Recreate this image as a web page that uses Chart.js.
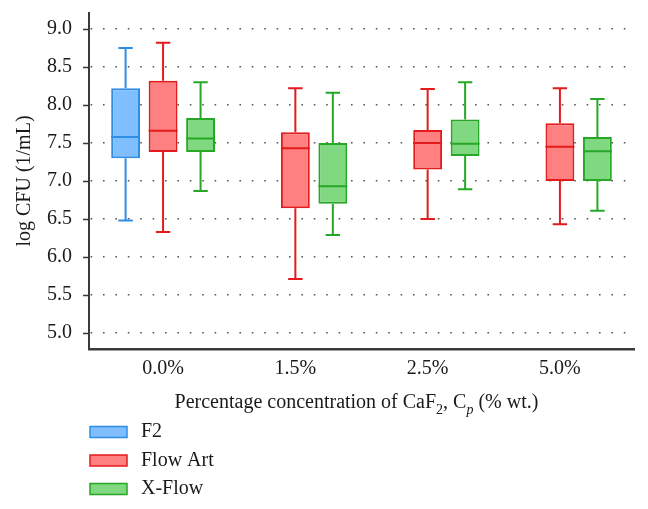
<!DOCTYPE html>
<html>
<head>
<meta charset="utf-8">
<script src="https://cdn.jsdelivr.net/npm/chart.js@4.4.1/dist/chart.umd.min.js"></script>
<style>
  html, body { margin: 0; padding: 0; background: #fff; }
  #wrap { width: 648px; height: 509px; }
</style>
</head>
<body>
<div id="wrap"><canvas id="boxChart" width="648" height="509"></canvas></div>
<script>
// values (log CFU per mL)
const categories = ["0.0%", "1.5%", "2.5%", "5.0%"];
const yTicks = [5.0, 5.5, 6.0, 6.5, 7.0, 7.5, 8.0, 8.5, 9.0];

const f2Min = [6.48, null, null, null];
const f2Q1 = [7.30, null, null, null];
const f2Median = [7.58, null, null, null];
const f2Q3 = [8.22, null, null, null];
const f2Max = [8.75, null, null, null];

const flowArtMin = [6.33, 5.71, 6.50, 6.43];
const flowArtQ1 = [7.38, 6.64, 7.15, 7.00];
const flowArtMedian = [7.66, 7.43, 7.50, 7.45];
const flowArtQ3 = [8.32, 7.64, 7.67, 7.76];
const flowArtMax = [8.82, 8.22, 8.21, 8.22];

const xFlowMin = [6.87, 6.29, 6.89, 6.61];
const xFlowQ1 = [7.38, 6.70, 7.33, 7.00];
const xFlowMedian = [7.56, 6.93, 7.49, 7.39];
const xFlowQ3 = [7.83, 7.50, 7.81, 7.58];
const xFlowMax = [8.30, 8.16, 8.30, 8.08];

const FONT = "'Liberation Serif', 'DejaVu Serif', serif";
const TEXT = "#1a1a1a";
const AXIS = "#3a3a3a";

function boxData(q1, q3) {
  return q1.map((v, i) => ({ x: i, y: v === null ? null : [v, q3[i]] }));
}

function makeSet(label, fill, line, min, q1, med, q3, max) {
  return {
    label: label,
    data: boxData(q1, q3),
    lo: min,
    mid: med,
    hi: max,
    backgroundColor: fill,
    borderColor: line,
    borderWidth: 2,
    borderSkipped: false,
  };
}

// whiskers, caps and median lines drawn on top of the floating bars
const boxPlot = {
  id: "boxPlot",
  afterDatasetsDraw(chart) {
    const ctx = chart.ctx;
    const y = chart.scales.y;
    chart.data.datasets.forEach((ds, di) => {
      const meta = chart.getDatasetMeta(di);
      meta.data.forEach((bar, i) => {
        if (ds.mid[i] === null) return;
        const x = bar.x;
        const w = bar.width;
        const q1 = y.getPixelForValue(ds.data[i].y[0]);
        const q3 = y.getPixelForValue(ds.data[i].y[1]);
        const lo = y.getPixelForValue(ds.lo[i]);
        const hi = y.getPixelForValue(ds.hi[i]);
        const md = y.getPixelForValue(ds.mid[i]);
        const cap = w / 4;
        ctx.save();
        ctx.strokeStyle = ds.borderColor;
        ctx.lineWidth = 2;
        ctx.beginPath();
        ctx.moveTo(x, q3); ctx.lineTo(x, hi);
        ctx.moveTo(x, q1); ctx.lineTo(x, lo);
        ctx.moveTo(x - cap, hi); ctx.lineTo(x + cap, hi);
        ctx.moveTo(x - cap, lo); ctx.lineTo(x + cap, lo);
        ctx.moveTo(x - w / 2, md); ctx.lineTo(x + w / 2, md);
        ctx.stroke();
        ctx.restore();
      });
    });
  },
  afterDraw(chart) {
    const ctx = chart.ctx;
    const area = chart.chartArea;
    const y = chart.scales.y;

    // small tick marks left of the y axis
    ctx.save();
    ctx.strokeStyle = AXIS;
    ctx.lineWidth = 1.5;
    ctx.beginPath();
    yTicks.forEach((t) => {
      const py = Math.round(y.getPixelForValue(t)) + 0.5;
      ctx.moveTo(area.left - 6, py);
      ctx.lineTo(area.left, py);
    });
    ctx.stroke();

    // x axis title with subscripts
    const parts = [
      { t: "Percentage concentration of CaF", f: "20px " + FONT, dy: 0 },
      { t: "2", f: "14px " + FONT, dy: 6 },
      { t: ", C", f: "20px " + FONT, dy: 0 },
      { t: "p", f: "italic 14px " + FONT, dy: 6 },
      { t: " (% wt.)", f: "20px " + FONT, dy: 0 },
    ];
    let total = 0;
    parts.forEach((p) => { ctx.font = p.f; p.w = ctx.measureText(p.t).width; total += p.w; });
    let tx = (area.left + area.right) / 2 - 5 - total / 2;
    ctx.fillStyle = TEXT;
    ctx.textBaseline = "alphabetic";
    ctx.textAlign = "left";
    parts.forEach((p) => {
      ctx.font = p.f;
      ctx.fillText(p.t, tx, 408 + p.dy);
      tx += p.w;
    });

    // legend listed under the title
    chart.data.datasets.forEach((ds, i) => {
      const cy = 432 + i * 28.5;
      ctx.fillStyle = ds.backgroundColor;
      ctx.fillRect(90, cy - 5.5, 37, 11);
      ctx.strokeStyle = ds.borderColor;
      ctx.lineWidth = 1.5;
      ctx.strokeRect(90, cy - 5.5, 37, 11);
      ctx.fillStyle = TEXT;
      ctx.font = "20px " + FONT;
      ctx.textBaseline = "middle";
      ctx.fillText(ds.label, 141, cy);
    });
    ctx.restore();
  },
};

new Chart(document.getElementById("boxChart"), {
  type: "bar",
  data: {
    datasets: [
      makeSet("F2", "#80bfff", "#2f8de4", f2Min, f2Q1, f2Median, f2Q3, f2Max),
      makeSet("Flow Art", "#ff8080", "#e41a1c", flowArtMin, flowArtQ1, flowArtMedian, flowArtQ3, flowArtMax),
      makeSet("X-Flow", "#80d880", "#26a826", xFlowMin, xFlowQ1, xFlowMedian, xFlowQ3, xFlowMax),
    ],
  },
  options: {
    responsive: false,
    animation: false,
    layout: { padding: { top: 13, right: 14, bottom: 130, left: 0 } },
    datasets: { bar: { categoryPercentage: 0.85, barPercentage: 0.77 } },
    plugins: {
      legend: { display: false },
      tooltip: { enabled: false },
    },
    scales: {
      x: {
        type: "linear",
        min: -0.56,
        max: 3.56,
        offset: false,
        afterBuildTicks: (s) => { s.ticks = categories.map((c, i) => ({ value: i })); },
        afterFit: (s) => { s.height = 30; s.paddingLeft = 0; s.paddingRight = 0; },
        ticks: {
          autoSkip: false,
          maxRotation: 0,
          padding: 8,
          color: TEXT,
          font: { family: FONT, size: 20 },
          callback: (v) => categories[v],
        },
        grid: { display: false, drawTicks: false, tickLength: 0, offset: false },
        border: { display: true, color: AXIS, width: 2.5 },
      },
      y: {
        min: 4.79,
        max: 9.21,
        afterBuildTicks: (s) => { s.ticks = yTicks.map((v) => ({ value: v })); },
        afterFit: (s) => { s.width = 89; s.paddingTop = 0; s.paddingBottom = 0; },
        ticks: {
          padding: 17,
          color: TEXT,
          font: { family: FONT, size: 20 },
          callback: (v) => v.toFixed(1),
        },
        grid: { color: "#555", lineWidth: 1.6, drawTicks: false, tickLength: 0 },
        border: { display: true, color: AXIS, width: 2, dash: [1.6, 10.8], dashOffset: -0.6 },
        title: {
          display: true,
          text: "log CFU (1/mL)",
          color: TEXT,
          font: { family: FONT, size: 20 },
          padding: { top: 13, bottom: 0 },
        },
      },
    },
  },
  plugins: [boxPlot],
});
</script>
</body>
</html>
